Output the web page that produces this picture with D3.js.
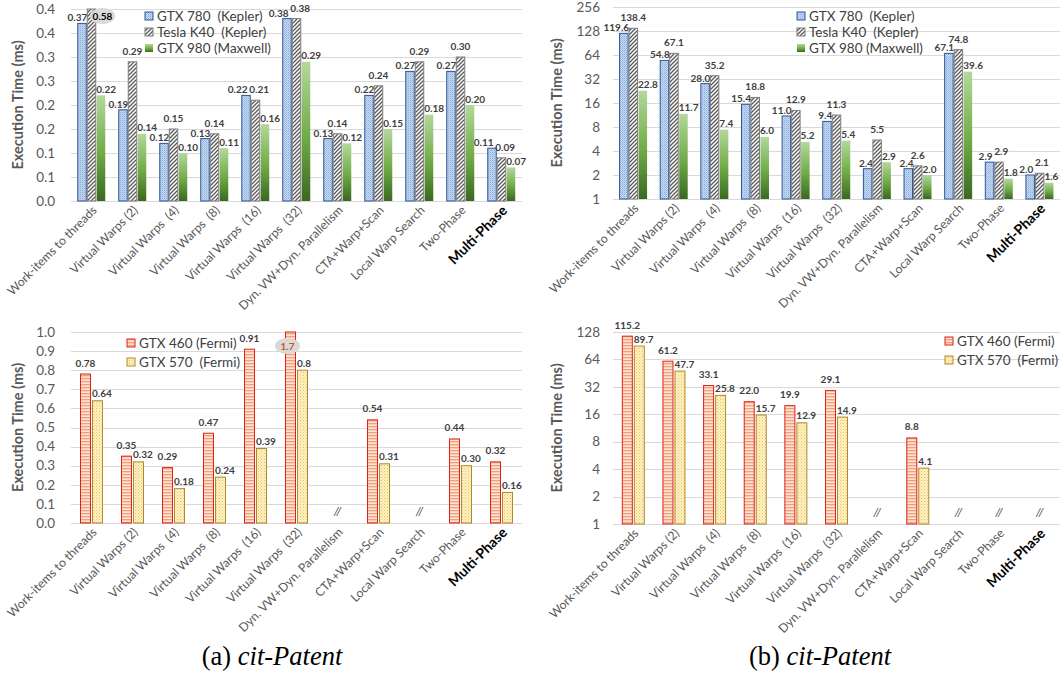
<!DOCTYPE html>
<html>
<head>
<meta charset="utf-8">
<script src="https://cdn.jsdelivr.net/npm/d3@7"></script>
<style>
  html, body { margin: 0; padding: 0; background: #fff; }
  svg { display: block; font-family: Lato, "Open Sans", sans-serif; }
  .pre { white-space: pre; }
</style>
</head>
<body>
<svg id="fig" width="1060" height="675"></svg>
<script>
// ---- categories shared by all four panels ----
const categories = [
  "Work-items to threads", "Virtual Warps (2)", "Virtual Warps  (4)", "Virtual Warps  (8)",
  "Virtual Warps  (16)", "Virtual Warps  (32)", "Dyn. VW+Dyn. Parallelism", "CTA+Warp+Scan",
  "Local Warp Search", "Two-Phase", "Multi-Phase"
];
const highlightCategory = "Multi-Phase";

// ---- (a) Kepler / Maxwell, linear axis (values as printed, ms) ----
const gtx780A = ["0.37", "0.19", "0.12", "0.13", "0.22", "0.38", "0.13", "0.22", "0.27", "0.27", "0.11"];
const k40A    = ["0.58", "0.29", "0.15", "0.14", "0.21", "0.38", "0.14", "0.24", "0.29", "0.30", "0.09"];
const gtx980A = ["0.22", "0.14", "0.10", "0.11", "0.16", "0.29", "0.12", "0.15", "0.18", "0.20", "0.07"];
const ticksA      = [0, 0.05, 0.1, 0.15, 0.2, 0.25, 0.3, 0.35, 0.4];
const tickLabelsA = ["0.0", "0.1", "0.1", "0.2", "0.2", "0.3", "0.3", "0.4", "0.4"];

// ---- (b) Kepler / Maxwell, log2 axis ----
const gtx780B = ["119.6", "54.8", "28.0", "15.4", "11.0", "9.4", "2.4", "2.4", "67.1", "2.9", "2.0"];
const k40B    = ["138.4", "67.1", "35.2", "18.8", "12.9", "11.3", "5.5", "2.6", "74.8", "2.9", "2.1"];
const gtx980B = ["22.8", "11.7", "7.4", "6.0", "5.2", "5.4", "2.9", "2.0", "39.6", "1.8", "1.6"];
const ticksB      = [1, 2, 4, 8, 16, 32, 64, 128, 256];
const tickLabelsB = ["1", "2", "4", "8", "16", "32", "64", "128", "256"];

// ---- (c) Fermi, linear axis (null = not available) ----
const gtx460C = ["0.78", "0.35", "0.29", "0.47", "0.91", "1.7", null, "0.54", null, "0.44", "0.32"];
const gtx570C = ["0.64", "0.32", "0.18", "0.24", "0.39", "0.8", null, "0.31", null, "0.30", "0.16"];
const ticksC      = [0, 0.1, 0.2, 0.3, 0.4, 0.5, 0.6, 0.7, 0.8, 0.9, 1.0];
const tickLabelsC = ["0.0", "0.1", "0.2", "0.3", "0.4", "0.5", "0.6", "0.7", "0.8", "0.9", "1.0"];

// ---- (d) Fermi, log2 axis ----
const gtx460D = ["115.2", "61.2", "33.1", "22.0", "19.9", "29.1", null, "8.8", null, null, null];
const gtx570D = ["89.7", "47.7", "25.8", "15.7", "12.9", "14.9", null, "4.1", null, null, null];
const ticksD      = [1, 2, 4, 8, 16, 32, 64, 128];
const tickLabelsD = ["1", "2", "4", "8", "16", "32", "64", "128"];

const captions = [["(a) ", "cit-Patent"], ["(b) ", "cit-Patent"]];

// ---- fills ----
const svg = d3.select("#fig");
svg.append("rect").attr("width", 1060).attr("height", 675).attr("fill", "#fff");
const defs = svg.append("defs");

// fine blue dither
const p780 = defs.append("pattern").attr("id", "p780").attr("patternUnits", "userSpaceOnUse")
  .attr("width", 2).attr("height", 2);
p780.append("rect").attr("width", 2).attr("height", 2).attr("fill", "#C7DAF1");
p780.append("rect").attr("width", 1).attr("height", 1).attr("fill", "#8DAEDC");
p780.append("rect").attr("x", 1).attr("y", 1).attr("width", 1).attr("height", 1).attr("fill", "#A8C3E8");

// dark diagonal hatch
const pK40 = defs.append("pattern").attr("id", "pK40").attr("patternUnits", "userSpaceOnUse")
  .attr("width", 4).attr("height", 4);
pK40.append("rect").attr("width", 4).attr("height", 4).attr("fill", "#fff");
pK40.append("path").attr("d", "M-1,1 L1,-1 M0,4 L4,0 M3,5 L5,3")
  .attr("stroke", "#595959").attr("stroke-width", 1.3);

// green vertical gradient
const g980 = defs.append("linearGradient").attr("id", "g980")
  .attr("x1", 0).attr("y1", 0).attr("x2", 0).attr("y2", 1);
g980.append("stop").attr("offset", "0%").attr("stop-color", "#B4D89C");
g980.append("stop").attr("offset", "55%").attr("stop-color", "#6FAB45");
g980.append("stop").attr("offset", "100%").attr("stop-color", "#3A6822");

// salmon horizontal stripes
const p460 = defs.append("pattern").attr("id", "p460").attr("patternUnits", "userSpaceOnUse")
  .attr("width", 4).attr("height", 3);
p460.append("rect").attr("width", 4).attr("height", 3).attr("fill", "#FCE3D4");
p460.append("rect").attr("width", 4).attr("height", 1.3).attr("fill", "#F2A07C");

// yellow dots
const p570 = defs.append("pattern").attr("id", "p570").attr("patternUnits", "userSpaceOnUse")
  .attr("width", 3).attr("height", 3);
p570.append("rect").attr("width", 3).attr("height", 3).attr("fill", "#FFF1C4");
p570.append("rect").attr("width", 1).attr("height", 1).attr("fill", "#E8C25A");
p570.append("rect").attr("x", 1.5).attr("y", 1.5).attr("width", 1).attr("height", 1).attr("fill", "#F0D483");

// ---- series styles ----
const keplerSeries = (v780, vK40, v980) => [
  { name: "GTX 780  (Kepler)",  values: v780, fill: "url(#p780)", stroke: "#2F5597", align: "end",    lift: 2 },
  { name: "Tesla K40  (Kepler)", values: vK40, fill: "url(#pK40)", stroke: "#7F7F7F", align: "middle", lift: 7 },
  { name: "GTX 980 (Maxwell)",  values: v980, fill: "url(#g980)", stroke: "none",    align: "start",  lift: 2.5 }
];
const fermiSeries = (v460, v570) => [
  { name: "GTX 460 (Fermi)",  values: v460, fill: "url(#p460)", stroke: "#E0201B", align: "middle", lift: 7.5 },
  { name: "GTX 570  (Fermi)", values: v570, fill: "url(#p570)", stroke: "#AE8A2A", align: "start",  lift: 3.5 }
];

const panels = [
  { left: 71, right: 522, top: 9, bottom: 201, type: "linear", domain: [0, 0.4],
    ticks: ticksA, tickLabels: tickLabelsA, tickX: 55, titleX: 18,
    series: keplerSeries(gtx780A, k40A, gtx980A), groupW: 28.5, gap: 1,
    legend: { x: 145, y: 16, dy: 16 },
    overflow: { dx: 11, dy: 7, color: "#000" } },
  { left: 613, right: 1060, top: 7, bottom: 199, type: "log", domain: [1, 256],
    ticks: ticksB, tickLabels: tickLabelsB, tickX: 600, titleX: 557,
    series: keplerSeries(gtx780B, k40B, gtx980B), groupW: 28.5, gap: 1,
    legend: { x: 797, y: 16, dy: 16 } },
  { left: 71, right: 522, top: 332, bottom: 523, type: "linear", domain: [0, 1.0],
    ticks: ticksC, tickLabels: tickLabelsC, tickX: 55, titleX: 18,
    series: fermiSeries(gtx460C, gtx570C), groupW: 24, gap: 2,
    legend: { x: 127, y: 343, dy: 19 },
    overflow: { dx: -3, dy: 14, color: "#C55A11" } },
  { left: 613, right: 1060, top: 332, bottom: 524, type: "log", domain: [1, 128],
    ticks: ticksD, tickLabels: tickLabelsD, tickX: 600, titleX: 557,
    series: fermiSeries(gtx460D, gtx570D), groupW: 24, gap: 2,
    legend: { x: 945, y: 341, dy: 19 } }
];

const VALUE_FS = 10;
panels.forEach(drawPanel);

function drawPanel(p) {
  const g = svg.append("g");
  const x = d3.scaleBand().domain(categories).range([p.left, p.right]).padding(0);
  const y = (p.type === "log" ? d3.scaleLog().base(2) : d3.scaleLinear())
    .domain(p.domain).range([p.bottom, p.top]);
  const xs = d3.scaleBand().domain(p.series.map(s => s.name)).range([-p.groupW / 2, p.groupW / 2]);
  const barW = xs.bandwidth() - p.gap;
  const yMax = p.domain[1];
  const labelsByCat = categories.map(() => []);

  // horizontal gridlines
  g.append("g").selectAll("line").data(p.ticks).join("line")
    .attr("x1", p.left).attr("x2", p.right)
    .attr("y1", d => Math.round(y(d)) + 0.5).attr("y2", d => Math.round(y(d)) + 0.5)
    .attr("stroke", "#D9D9D9").attr("stroke-width", 1);

  // y tick labels
  g.append("g").selectAll("text").data(p.ticks).join("text")
    .attr("x", p.tickX).attr("y", d => y(d)).attr("dy", "0.35em")
    .attr("text-anchor", "end").attr("font-size", 13.5).attr("fill", "#595959")
    .text((d, i) => p.tickLabels[i]);

  // y title
  g.append("text")
    .attr("transform", `translate(${p.titleX},${(p.top + p.bottom) / 2}) rotate(-90)`)
    .attr("text-anchor", "middle").attr("dy", "0.35em")
    .attr("font-size", 14.5).attr("font-weight", 700).attr("fill", "#595959")
    .text("Execution Time (ms)");

  // bars
  p.series.forEach(s => {
    const items = categories.map((c, i) => ({ c, i, raw: s.values[i] }))
      .filter(d => d.raw !== null)
      .map(d => {
        const v = +d.raw;
        const bx = x(d.c) + x.bandwidth() / 2 + xs(s.name) + p.gap / 2;
        const top = y(Math.min(v, yMax));
        return { ...d, v, bx, top, over: v > yMax };
      });

    g.append("g").selectAll("rect").data(items).join("rect")
      .attr("x", d => d.bx).attr("y", d => d.top)
      .attr("width", barW).attr("height", d => y(p.domain[0]) - d.top)
      .attr("fill", s.fill)
      .attr("stroke", s.stroke).attr("stroke-width", s.stroke === "none" ? 0 : 1);

    // value labels
    items.forEach(d => {
      if (d.over) {
        const cx = d.bx + barW / 2 + p.overflow.dx, cy = d.top + p.overflow.dy;
        g.append("ellipse").attr("cx", cx).attr("cy", cy).attr("rx", 12.5).attr("ry", 8)
          .attr("fill", "#D9D9D9");
        g.append("text").attr("x", cx).attr("y", cy).attr("dy", "0.35em")
          .attr("text-anchor", "middle").attr("font-size", VALUE_FS).attr("font-weight", 700)
          .attr("fill", p.overflow.color).text(d.raw);
        return;
      }
      const tx = s.align === "end" ? d.bx + barW + 1 : s.align === "start" ? d.bx - 0.5 : d.bx + barW / 2;
      const t = g.append("text").attr("x", tx).attr("y", d.top - s.lift)
        .attr("text-anchor", s.align).attr("font-size", VALUE_FS).attr("font-weight", 700)
        .attr("fill", "#404040").text(d.raw);
      labelsByCat[d.i].push(t);
    });
  });

  // push apart neighbouring value labels that collide within a group
  const box = t => {
    const b = t.node().getBBox();
    const base = +t.attr("y");
    return { x0: b.x, x1: b.x + b.width, y0: base - 0.72 * VALUE_FS, y1: base };
  };
  labelsByCat.forEach(list => {
    for (let k = 1; k < list.length; k++) {
      const a = box(list[k - 1]), b = box(list[k]);
      const vOverlap = a.y0 < b.y1 && b.y0 < a.y1;
      const h = a.x1 + 1.5 - b.x0;
      if (vOverlap && h > 0) {
        list[k - 1].attr("x", +list[k - 1].attr("x") - h / 2);
        list[k].attr("x", +list[k].attr("x") + h / 2);
      }
    }
  });

  // "not available" markers
  categories.forEach((c, i) => {
    if (p.series.every(s => s.values[i] === null)) {
      g.append("text").attr("x", x(c) + x.bandwidth() / 2).attr("y", p.bottom - 8)
        .attr("text-anchor", "middle").attr("font-size", 12).attr("fill", "#404040")
        .attr("font-style", "italic").text("//");
    }
  });

  // x category labels, rotated
  g.append("g").selectAll("text").data(categories).join("text")
    .attr("class", "pre")
    .attr("transform", d => `translate(${x(d) + x.bandwidth() / 2 + 3},${p.bottom + 7}) rotate(-45)`)
    .attr("text-anchor", "end").attr("dy", "0.35em")
    .attr("font-size", d => d === highlightCategory ? 14 : 12.2)
    .attr("font-weight", d => d === highlightCategory ? 700 : 400)
    .attr("fill", d => d === highlightCategory ? "#000" : "#595959")
    .text(d => d);

  // legend
  const lg = g.append("g");
  p.series.forEach((s, i) => {
    const ly = p.legend.y + i * p.legend.dy;
    lg.append("rect").attr("x", p.legend.x).attr("y", ly - 4).attr("width", 8).attr("height", 8)
      .attr("fill", s.fill).attr("stroke", s.stroke).attr("stroke-width", s.stroke === "none" ? 0 : 1);
    lg.append("text").attr("class", "pre").attr("x", p.legend.x + 12).attr("y", ly).attr("dy", "0.35em")
      .attr("font-size", 13.5).attr("fill", "#404040").text(s.name);
  });
}

// captions
[272, 820].forEach((cx, i) => {
  const t = svg.append("text").attr("x", cx).attr("y", 665).attr("text-anchor", "middle")
    .attr("font-family", "'Liberation Serif', 'DejaVu Serif', serif").attr("font-size", 26.5)
    .attr("fill", "#000");
  t.append("tspan").attr("class", "pre").text(captions[i][0]);
  t.append("tspan").attr("font-style", "italic").text(captions[i][1]);
});
</script>
</body>
</html>
